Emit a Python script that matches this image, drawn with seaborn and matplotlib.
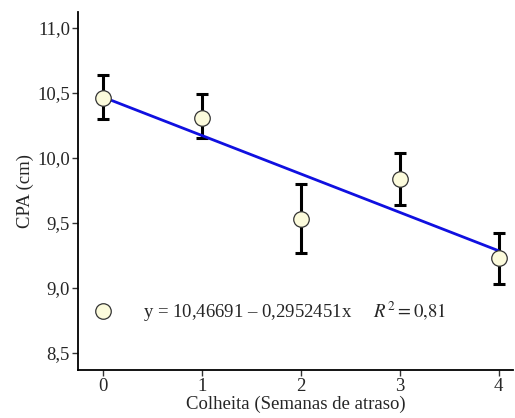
import numpy as np
import pandas as pd
import matplotlib
matplotlib.use("Agg")
import matplotlib.pyplot as plt
import seaborn as sns

# --------------------------------------------------
# Data
# --------------------------------------------------
semanas = [0, 1, 2, 3, 4]
cpa_media = [10.46, 10.31, 9.53, 9.84, 9.23]
cpa_inferior = [10.30, 10.15, 9.27, 9.64, 9.03]
cpa_superior = [10.64, 10.49, 9.80, 10.04, 9.42]

intercepto = 10.46691
inclinacao = -0.2952451

df = pd.DataFrame({'Semanas': semanas, 'CPA': cpa_media})
df['err_low'] = df['CPA'] - np.array(cpa_inferior)
df['err_high'] = np.array(cpa_superior) - df['CPA']

reta = pd.DataFrame({'Semanas': [0, 4]})
reta['CPA'] = intercepto + inclinacao * reta['Semanas']

# --------------------------------------------------
# Plot
# --------------------------------------------------
sns.set_style("ticks")
plt.rcParams['font.family'] = ['Liberation Serif', 'DejaVu Serif']
plt.rcParams['mathtext.fontset'] = 'stix'

fig = plt.figure(figsize=(5.15, 4.18), dpi=100)
ax = fig.add_axes([0.152, 0.115, 0.845, 0.856])

ax.errorbar(df['Semanas'], df['CPA'],
            yerr=[df['err_low'], df['err_high']],
            fmt='none', ecolor='black', elinewidth=2.2,
            capsize=4.5, capthick=2.2, zorder=2)

sns.lineplot(data=reta, x='Semanas', y='CPA', color='#1010e0',
             linewidth=2, ax=ax, zorder=3)

sns.scatterplot(data=df, x='Semanas', y='CPA', s=125,
                color='#fcfbdc', edgecolor='#333333', linewidth=0.9,
                ax=ax, zorder=4)

# legend-like annotation
ax.scatter([0], [8.82], s=125, color='#fcfbdc', edgecolor='#333333',
           linewidth=0.9, zorder=4)
ax.text(0.4, 8.82,
        "y = 10,46691 \u2013 0,2952451x     $R^2 = 0{,}81$",
        fontsize=13.5, va='center', ha='left')

ax.set_xlim(-0.25, 4.15)
ax.set_ylim(8.37, 11.12)
ax.set_xticks(semanas)
ax.set_yticks([8.5, 9.0, 9.5, 10.0, 10.5, 11.0])
ax.set_yticklabels(['8,5', '9,0', '9,5', '10,0', '10,5', '11,0'])

ax.set_xlabel("Colheita (Semanas de atraso)", fontsize=13.5, labelpad=0)
ax.set_ylabel("CPA (cm)", fontsize=13.5, labelpad=2)
ax.tick_params(axis='both', labelsize=13.5, length=4, width=1, color='#333333',
               pad=2)

sns.despine(ax=ax)
for sp in ['left', 'bottom']:
    ax.spines[sp].set_linewidth(1.3)
    ax.spines[sp].set_color('black')

fig.savefig("out.png", dpi=100)
